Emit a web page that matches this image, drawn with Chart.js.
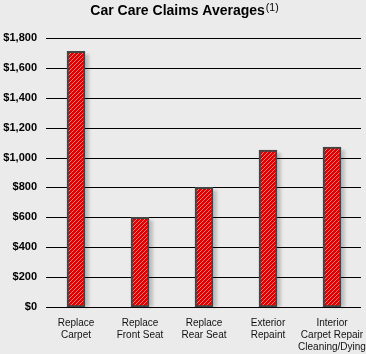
<!DOCTYPE html>
<html>
<head>
<title>Car Care Claims Averages</title>
<script src="https://cdn.jsdelivr.net/npm/chart.js"></script>
<style>
  html, body { margin: 0; padding: 0; background: #ebebeb; }
  #wrap { width: 366px; height: 354px; }
</style>
</head>
<body>
<div id="wrap"><canvas id="claimsChart"></canvas></div>
<script>
// data
const categories = [
  ['Replace', 'Carpet'],
  ['Replace', 'Front Seat'],
  ['Replace', 'Rear Seat'],
  ['Exterior', 'Repaint'],
  ['Interior', 'Carpet Repair', 'Cleaning/Dying']
];
const claimAverages = [1710, 600, 800, 1050, 1070];
const yMin = 0, yMax = 1800, yStep = 200;
const chartTitle = 'Car Care Claims Averages';
const titleNote = '(1)';

const FONT = '"Liberation Sans", Arial, sans-serif';

// red fill with light diagonal stripes
function makeHatch() {
  var c = document.createElement('canvas');
  c.width = 4; c.height = 4;
  var g = c.getContext('2d');
  g.fillStyle = '#e00000';
  g.fillRect(0, 0, 4, 4);
  g.strokeStyle = 'rgba(255,140,140,0.85)';
  g.lineWidth = 1;
  g.beginPath();
  g.moveTo(-1, 5); g.lineTo(5, -1);
  g.moveTo(-1, 1); g.lineTo(1, -1);
  g.moveTo(3, 5); g.lineTo(5, 3);
  g.stroke();
  return g.createPattern(c, 'repeat');
}

var ctx = document.getElementById('claimsChart').getContext('2d');

// title with superscript note, horizontal grid lines, bar shadows
var decorations = {
  id: 'decorations',
  beforeDraw: function (chart) {
    var c = chart.ctx;
    c.save();
    c.fillStyle = '#ebebeb';
    c.fillRect(0, 0, chart.width, chart.height);
    c.fillStyle = '#000';
    c.textBaseline = 'alphabetic';
    c.font = 'bold 14px ' + FONT;
    var w1 = c.measureText(chartTitle).width;
    c.font = '10.5px ' + FONT;
    var w2 = c.measureText(titleNote).width;
    var x0 = 184 - (w1 + w2) / 2;
    c.font = 'bold 14px ' + FONT;
    c.fillText(chartTitle, x0, 15);
    c.font = '10.5px ' + FONT;
    c.fillText(titleNote, x0 + w1 + 1, 11);
    c.restore();
  },
  beforeDatasetsDraw: function (chart) {
    var c = chart.ctx;
    var y = chart.scales.y;
    c.save();
    c.strokeStyle = '#000';
    c.lineWidth = 1;
    for (var v = yMin; v <= yMax; v += yStep) {
      var py = Math.round(y.getPixelForValue(v)) + 0.5;
      c.beginPath();
      c.moveTo(46, py);
      c.lineTo(361, py);
      c.stroke();
    }
    // soft grey shadow to the right of each bar
    chart.getDatasetMeta(0).data.forEach(function (bar) {
      var left = bar.x - bar.width / 2;
      c.save();
      c.fillStyle = 'rgba(0,0,0,0.18)';
      c.filter = 'blur(1.5px)';
      c.fillRect(left + 4, bar.y + 3, bar.width, bar.base - bar.y - 3);
      c.restore();
    });
    c.restore();
  }
};

var chart = new Chart(ctx, {
  type: 'bar',
  data: {
    labels: categories,
    datasets: [{
      data: claimAverages,
      backgroundColor: makeHatch(),
      borderColor: '#444',
      borderWidth: 2,
      borderSkipped: false,
      barThickness: 18
    }]
  },
  options: {
    responsive: true,
    maintainAspectRatio: false,
    animation: false,
    events: [],
    layout: { padding: { top: 38, right: 2, left: 0, bottom: 0 } },
    plugins: {
      legend: { display: false },
      title: { display: false },
      tooltip: { enabled: false }
    },
    scales: {
      x: {
        grid: { display: false, drawTicks: false },
        border: { display: false },
        afterFit: function (scale) {
          scale.paddingLeft = 0;
          scale.paddingRight = 0;
          scale.height = 47;
        },
        ticks: {
          color: '#111',
          padding: 10,
          maxRotation: 0,
          autoSkip: false,
          font: { family: FONT, size: 10, lineHeight: 1.2 }
        }
      },
      y: {
        min: yMin,
        max: yMax,
        grid: { display: false, drawTicks: false },
        border: { display: false },
        afterFit: function (scale) {
          scale.width = 44;
          scale.paddingTop = 0;
          scale.paddingBottom = 0;
        },
        ticks: {
          stepSize: yStep,
          color: '#000',
          padding: 7,
          font: { family: FONT, size: 11, weight: 'bold' },
          callback: function (v) { return '$' + v.toLocaleString('en-US'); }
        }
      }
    }
  },
  plugins: [decorations]
});
</script>
</body>
</html>
